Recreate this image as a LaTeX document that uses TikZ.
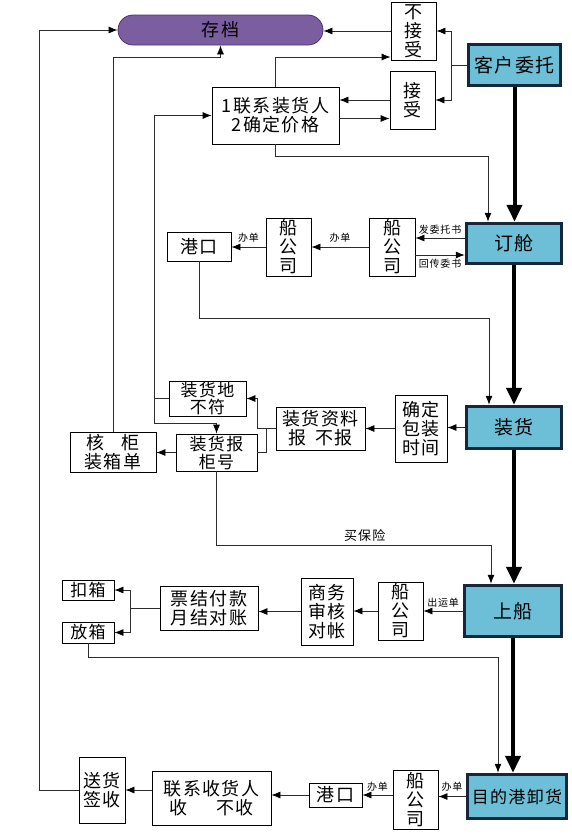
\documentclass[tikz,border=0pt]{standalone}
\usepackage{fontspec}
\setmainfont{Noto Sans CJK SC}[LetterSpace=8]
\usetikzlibrary{arrows.meta, positioning, calc}
\definecolor{stepblue}{RGB}{108, 191, 214}
\definecolor{stepnavy}{RGB}{22, 38, 60}
\definecolor{archpurple}{RGB}{122, 94, 160}
\definecolor{archedge}{RGB}{78, 50, 108}
\definecolor{linkgray}{RGB}{45, 45, 45}

\begin{document}
\begin{tikzpicture}[x=1pt, y=-1pt,
  box/.style={draw, line width=0.8pt, inner sep=0pt, align=center, font=\fontsize{18}{19}\selectfont},
  mainbox/.style={draw=stepnavy, fill=stepblue, line width=3.5pt, inner sep=0pt, align=center, font=\fontsize{19}{21}\selectfont},
  link/.style={line width=0.8pt, draw=linkgray},
  arr/.style={link, -{Latex[length=9pt, width=7pt, color=black]}},
  flow/.style={line width=4pt, -{Triangle[length=17pt, width=15pt]}},
  tag/.style={font=\fontsize{10}{11}\selectfont, inner sep=1.5pt}
]
  \useasboundingbox (0,0) rectangle (572,839);

  % Archive
  \node[draw=archedge, fill=archpurple, rounded corners=15pt, line width=0.8pt, minimum width=205pt, minimum height=30pt, font=\fontsize{18}{19}\selectfont] (archive) at (220.5,30) {存档};

  % Main chain
  \node[mainbox, minimum width=92pt, minimum height=41pt] (client) at (514.5,65) {客户委托};
  \node[mainbox, minimum width=95pt, minimum height=40pt] (booking) at (514,243.5) {订舱};
  \node[mainbox, minimum width=95pt, minimum height=42pt] (loading) at (514,427.5) {装货};
  \node[mainbox, minimum width=97pt, minimum height=51pt] (board) at (513,611) {上船};
  \node[mainbox, minimum width=99pt, minimum height=44pt, font=\fontsize{17}{19}\selectfont] (unload) at (517,796.5) {目的港卸货};

  \draw[flow] (client.south) -- (client.south |- booking.north);
  \draw[flow] (booking.south) -- (booking.south |- loading.north);
  \draw[flow] (loading.south) -- (loading.south |- board.north);
  \draw[flow] (board.south) -- (board.south |- unload.north);

  % Entrust
  \node[box, minimum width=45pt, minimum height=58pt] (reject) at (413.5,31) {不\\接\\受};
  \node[box, minimum width=45pt, minimum height=58pt] (accept) at (412.5,100) {接\\受};
  \node[box, minimum width=127pt, minimum height=57pt] (contact) at (275.5,115.5) {1联系装货人\\2确定价格};

  \draw[link] (client.west) -- ++(-15,0) coordinate (fork1);
  \draw[arr] (fork1) |- (reject.east);
  \draw[arr] (fork1) |- (accept.east);
  \draw[arr] (reject.west) -- (reject.west -| archive.east);
  \draw[arr] (accept.west) -- (accept.west -| contact.east);
  \draw[arr] ([yshift=-3pt]contact.east) -- ([yshift=-3pt]contact.east -| accept.west);
  \draw[arr] (contact.north) |- ([yshift=-26pt]reject.west);
  \draw[arr] (contact.south) -- ++(0,12) -| ([xshift=-26pt]booking.north);

  % Booking
  \node[box, minimum width=46pt, minimum height=58pt] (ship1a) at (392,247) {船\\公\\司};
  \node[box, minimum width=45pt, minimum height=58pt] (ship1b) at (288.5,247) {船\\公\\司};
  \node[box, minimum width=64pt, minimum height=29pt] (port1) at (199,246.5) {港口};

  \draw[arr] ([yshift=5.5pt]booking.west) -- ([yshift=5.5pt]booking.west -| ship1a.east) node[tag, above, midway, yshift=2pt] {发委托书};
  \draw[arr] ([yshift=-8pt]ship1a.east) -- ([yshift=-8pt]ship1a.east -| booking.west) node[tag, below, midway, yshift=-2pt] {回传委书};
  \draw[arr] (ship1a.west) -- (ship1a.west -| ship1b.east) node[tag, above, midway, yshift=3pt] {办单};
  \draw[arr] (ship1b.west) -- (ship1b.west -| port1.east) node[tag, above, midway, yshift=3pt] {办单};
  \draw[arr] (port1.south) -- ++(0,57) -| ([xshift=-25pt]loading.north);

  % Loading
  \node[box, minimum width=52pt, minimum height=67pt] (packtime) at (421,428.5) {确定\\包装\\时间};
  \node[box, minimum width=89pt, minimum height=43pt] (docs) at (320.5,428.5) {装货资料\\报\enspace 不报};
  \node[box, minimum width=77pt, minimum height=35pt, font=\fontsize{17}{17}\selectfont] (mismatch) at (207.5,398.5) {装货地\\不符};
  \node[box, minimum width=81pt, minimum height=37pt, font=\fontsize{17}{18}\selectfont] (cntno) at (216.5,452.5) {装货报\\柜号};
  \node[box, minimum width=86pt, minimum height=40pt] (verify) at (113,452) {核\quad 柜\\装箱单};
  \coordinate (loopL) at (154,423);

  \draw[arr] (loading.west) -- (loading.west -| packtime.east);
  \draw[arr] (packtime.west) -- (packtime.west -| docs.east);
  \draw[arr] (docs.west) -- ++(-18,0) |- (mismatch.east);
  \draw[link] ([xshift=-9pt]docs.west) |- (cntno.east);
  \draw[link] (mismatch.west) -- (mismatch.west -| loopL);
  \draw[arr] (loopL) |- (contact.west);
  \draw[arr] (loopL) -| (cntno.north);
  \draw[arr] (cntno.west) -- (cntno.west -| verify.east);
  \draw[arr] (verify.north) -- ++(0,-374) -| (archive.south);
  \draw[arr] (cntno.south) -- ++(0,74) -| ([xshift=-22pt]board.north) node[pos=0.27, above, font=\fontsize{13}{14}\selectfont] {买保险};

  % Boarding
  \node[box, minimum width=45pt, minimum height=58pt] (ship2) at (400.5,611) {船\\公\\司};
  \node[box, minimum width=52pt, minimum height=67pt] (audit) at (327,611.5) {商务\\审核\\对帐};
  \node[box, minimum width=98pt, minimum height=44pt] (settle) at (209,608) {票结付款\\月结对账};
  \node[box, minimum width=52pt, minimum height=20pt, font=\fontsize{17}{18}\selectfont] (hold) at (88,590) {扣箱};
  \node[box, minimum width=52pt, minimum height=21pt, font=\fontsize{17}{18}\selectfont] (release) at (88,632.5) {放箱};

  \draw[arr] (board.west) -- (board.west -| ship2.east) node[tag, above, midway, yshift=2pt] {出运单};
  \draw[arr] (ship2.west) -- (ship2.west -| audit.east);
  \draw[arr] (audit.west) -- (audit.west -| settle.east);
  \draw[link] (settle.west) -- ++(-29,0) coordinate (fork2);
  \draw[arr] (fork2) |- (hold.east);
  \draw[arr] (fork2) |- (release.east);
  \draw[arr] (release.south) -- ++(0,13.5) -| ([xshift=-19pt]unload.north);

  % Unloading
  \node[box, minimum width=45pt, minimum height=59pt] (ship3) at (415.5,799.5) {船\\公\\司};
  \node[box, minimum width=53pt, minimum height=24pt] (port2) at (335.5,795) {港口};
  \node[box, minimum width=119pt, minimum height=54pt] (receiver) at (211.5,798) {联系收货人\\收\hspace{1.6em}不收};
  \node[box, minimum width=46pt, minimum height=66pt] (deliver) at (102,790) {送货\\签收};

  \draw[arr] (unload.west) -- (unload.west -| ship3.east) node[tag, above, midway, yshift=3pt] {办单};
  \draw[arr] (port2.east -| ship3.west) -- (port2.east) node[tag, above, midway, yshift=2pt] {办单};
  \draw[arr] (port2.west) -- (port2.west -| receiver.east);
  \draw[arr] (deliver.east -| receiver.west) -- (deliver.east);
  \draw[arr] (deliver.west) -- ++(-39,0) |- (archive.west);
\end{tikzpicture}
\end{document}
